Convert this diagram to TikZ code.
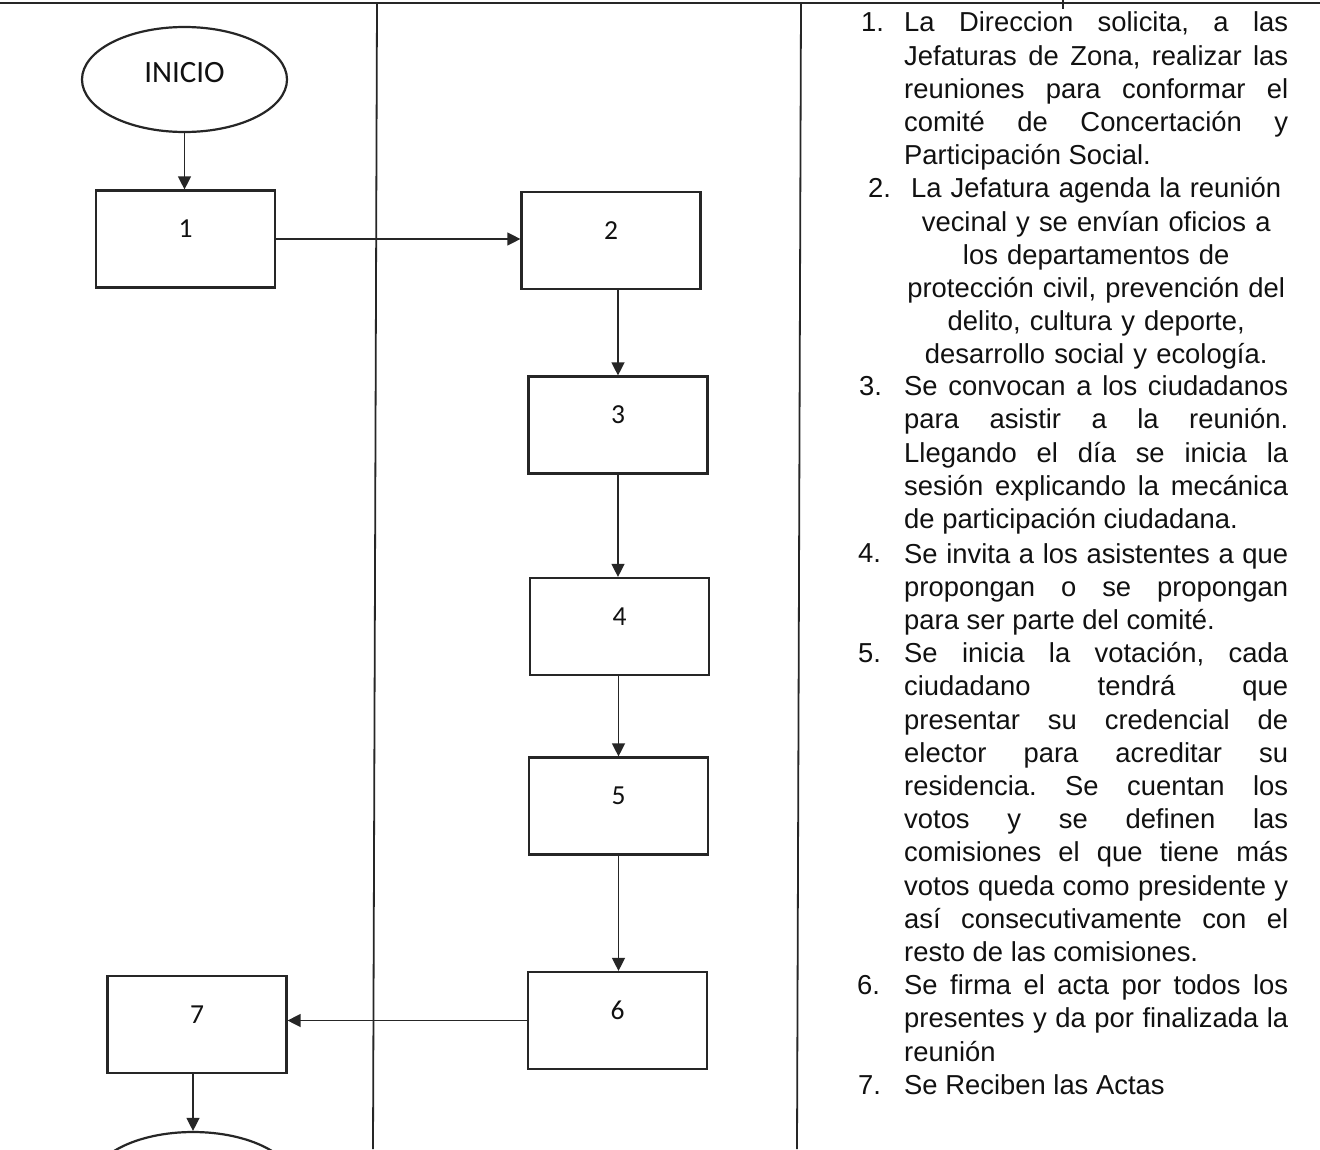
\documentclass[tikz,border=0pt]{standalone}
\usepackage{fontspec}
\setmainfont{Liberation Sans}
\newfontfamily\calibri{Carlito}
\usetikzlibrary{shapes.geometric,arrows.meta,calc}
\definecolor{ink}{HTML}{262626}
\definecolor{txt}{HTML}{111111}
\begin{document}
\begin{tikzpicture}[x=1pt,y=-1pt,
  frame/.style={draw=ink, line width=1.8pt},
  box/.style={draw=ink, line width=2.2pt, minimum width=179pt, minimum height=97pt,
    inner sep=0pt, text=txt, font=\calibri\fontsize{27.5}{27.5}\selectfont,
    text height=20pt, text depth=23pt},
  startend/.style={ellipse, draw=ink, line width=2.2pt, minimum width=205pt,
    minimum height=105pt, inner sep=0pt, text=txt,
    font=\calibri\fontsize{31}{31}\selectfont, text height=20pt, text depth=13.4pt},
  flow/.style={draw=ink, line width=1.3pt, -{Triangle[length=13pt,width=13pt]}},
  itemtext/.style={anchor=north west, inner sep=0pt, text width=384pt, text=txt,
    font=\fontsize{27.4}{33.2}\selectfont, align=justify},
  itemcenter/.style={itemtext, align=center},
  itemnum/.style={anchor=base west, inner sep=0pt, text=txt, font=\fontsize{27.4}{33.2}\selectfont}]
\useasboundingbox (0,0) rectangle (1320,1149);
\fill[white] (0,0) rectangle (1320,1149);

% table lines
\draw[frame, line width=2.4pt] (0,3) -- (1320,3);
\draw[frame] (377,3) -- (373,1149);
\draw[frame] (801,3) -- (797,1149);
\draw[frame, line width=1.2pt] (1063,0) -- (1063,9);

% flowchart
\node[startend] (inicio) at (184.5,79.5) {INICIO};
\node[box] (b1) at (185.5,239) {1};
\node[box] (b2) at (611,240.5) {2};
\node[box] (b3) at (618,425) {3};
\node[box] (b4) at (619.5,626.5) {4};
\node[box] (b5) at (618.5,806) {5};
\node[box] (b6) at (617.5,1020.5) {6};
\node[box] (b7) at (197,1024.5) {7};
\node[startend] (fin) at (193,1184.5) {};

\draw[flow] (inicio.south) -- (inicio.south |- b1.north);
\draw[flow] (b1.east) -- (b1.east -| b2.west);
\draw[flow] (b2.south -| b3.north) -- (b3.north);
\draw[flow] (b3.south) -- (b3.south |- b4.north);
\draw[flow] (b4.south -| b5.north) -- (b5.north);
\draw[flow] (b5.south) -- (b5.south |- b6.north);
\draw[flow] (b6.west) -- (b6.west -| b7.east);
\draw[flow] (fin.north |- b7.south) -- (fin.north);

% description column
\node[itemnum] (n1) at (861,31.6) {1.};
\node[itemtext] (t1) at (904,7.6) {\parindent=0pt\frenchspacing\tolerance=10000\hbadness=10000\rule{0pt}{24pt}La Direccion solicita, a las\linebreak Jefaturas de Zona, realizar las\linebreak reuniones para conformar el\linebreak comité de Concertación y\linebreak Participación Social.};

\node[itemnum] (n2) at (868,197.6) {2.};
\node[itemcenter] (t2) at (904,173.6) {\rule{0pt}{24pt}La Jefatura agenda la reunión\\ vecinal y se envían oficios a\\ los departamentos de\\ protección civil, prevención del\\ delito, cultura y deporte,\\ desarrollo social y ecología.};

\node[itemnum] (n3) at (859,395.5) {3.};
\node[itemtext] (t3) at (904,371.5) {\parindent=0pt\frenchspacing\tolerance=10000\hbadness=10000\rule{0pt}{24pt}Se convocan a los ciudadanos\linebreak para asistir a la reunión.\linebreak Llegando el día se inicia la\linebreak sesión explicando la mecánica\linebreak de participación ciudadana.};

\node[itemnum] (n4) at (858,562.8) {4.};
\node[itemtext] (t4) at (904,538.8) {\parindent=0pt\frenchspacing\tolerance=10000\hbadness=10000\rule{0pt}{24pt}Se invita a los asistentes a que\linebreak propongan o se propongan\linebreak para ser parte del comité.};

\node[itemnum] (n5) at (858,662.4) {5.};
\node[itemtext] (t5) at (904,638.4) {\parindent=0pt\frenchspacing\tolerance=10000\hbadness=10000\rule{0pt}{24pt}Se inicia la votación, cada\linebreak ciudadano tendrá que\linebreak presentar su credencial de\linebreak elector para acreditar su\linebreak residencia. Se cuentan los\linebreak votos y se definen las\linebreak comisiones el que tiene más\linebreak votos queda como presidente y\linebreak así consecutivamente con el\linebreak resto de las comisiones.};

\node[itemnum] (n6) at (857,994.4) {6.};
\node[itemtext] (t6) at (904,970.4) {\parindent=0pt\frenchspacing\tolerance=10000\hbadness=10000\rule{0pt}{24pt}Se firma el acta por todos los\linebreak presentes y da por finalizada la\linebreak reunión};

\node[itemnum] (n7) at (858,1094) {7.};
\node[itemtext] (t7) at (904,1070) {\parindent=0pt\rule{0pt}{24pt}Se Reciben las Actas};
\end{tikzpicture}
\end{document}
